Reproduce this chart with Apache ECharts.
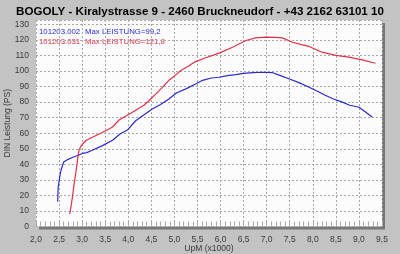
<!DOCTYPE html>
<html><head><meta charset="utf-8">
<script src="https://cdn.jsdelivr.net/npm/echarts@6/dist/echarts.min.js"></script>
<style>html,body{margin:0;padding:0;background:#c3c3c3}#c{width:400px;height:254px}</style>
</head><body><div id="c"></div>
<script>
const titleText = "BOGOLY - Kiralystrasse 9 - 2460 Bruckneudorf - +43 2162 63101 10";
const xName = "UpM (x1000)";
const yName = "DIN Leistung (PS)";
const runIds = ["101203.002", "101203.031"];
const runMax = ["Max LEISTUNG=99,2", "Max LEISTUNG=121,8"];
const blueRpm = [2.47,2.48,2.52,2.55,2.6,2.68,2.8,2.93,3.0,3.1,3.22,3.44,3.66,3.82,3.98,4.16,4.35,4.52,4.7,4.88,5.05,5.25,5.45,5.61,5.8,5.97,6.15,6.33,6.5,6.7,6.9,7.12,7.3,7.48,7.7,7.92,8.1,8.28,8.45,8.64,8.8,9.0,9.15,9.29];
const bluePs = [16,25,33,37,41.5,43,44.5,46,47,47.5,49,52,55.5,59.5,62,68,72,75.5,78.5,82,86,88.5,91.5,94,95.5,96,97,97.7,98.5,99,99.2,99,97,95,92.5,89.6,87,84.2,82,80,78,76.7,73.5,70.3];
const redRpm = [2.73,2.76,2.79,2.82,2.85,2.88,2.9,2.93,2.98,3.08,3.22,3.44,3.66,3.8,4.09,4.34,4.47,4.6,4.74,4.88,5.01,5.14,5.3,5.43,5.68,5.97,6.26,6.55,6.76,6.98,7.2,7.34,7.56,7.75,7.92,8.2,8.5,8.78,9.07,9.36];
const redPs = [8,13,19,26,32,38,43,49,52,55.3,57.4,60.5,64,68.5,73.5,78,81.5,85.3,89.5,94,97,100.3,103,105.7,108.5,111.5,115.3,119.6,121.3,121.8,121.6,121.3,118.5,117,115.8,112.1,110,108.9,107.2,105];
const colors = ["#2a2ad0", "#e0304a"];

const pair = (xs, ys) => xs.map((x, i) => [x, ys[i]]);
const chart = echarts.init(document.getElementById('c'), null, {renderer: 'canvas'});
const lblFont = {fontFamily: 'Liberation Sans', fontSize: 8.5, color: '#3a3a3a'};
chart.setOption({
  backgroundColor: '#c3c3c3',
  animation: false,
  title: {text: titleText, left: 'center', top: 1,
    textStyle: {fontFamily: 'Liberation Sans', fontWeight: 'bold', fontSize: 11.6, color: '#000'}},
  grid: {left: 36, right: 18, top: 20, bottom: 27.5, show: true, backgroundColor: '#fcfcfc',
    outerBoundsMode: 'none', containLabel: false,
    borderWidth: 0, shadowColor: '#777', shadowBlur: 0, shadowOffsetX: 3, shadowOffsetY: 3},
  xAxis: {type: 'value', min: 2, max: 9.5, interval: 0.5,
    name: xName, nameLocation: 'middle', nameGap: 17.5, nameMoveOverlap: false,
    nameTextStyle: Object.assign({}, lblFont),
    axisLine: {show: false},
    axisTick: {show: true, inside: true, length: 5, lineStyle: {color: '#aaa'}},
    minorTick: {show: true, splitNumber: 5, length: 5, lineStyle: {color: '#aaa'}},
    axisLabel: Object.assign({margin: 9, formatter: v => v.toFixed(1).replace('.', ',')}, lblFont),
    splitLine: {show: true, lineStyle: {color: '#a8a8a8', type: [2, 2], width: 1}}},
  yAxis: {type: 'value', min: 0, max: 132.8, interval: 10,
    name: yName, nameLocation: 'middle', nameGap: 24, nameRotate: 90, nameMoveOverlap: false,
    nameTextStyle: Object.assign({}, lblFont),
    axisLine: {show: false}, axisTick: {show: false},
    axisLabel: Object.assign({margin: 7, showMaxLabel: false}, lblFont),
    splitLine: {show: true, lineStyle: {color: '#a8a8a8', type: [2, 2], width: 1}}},
  series: [
    {type: 'line', data: pair(blueRpm, bluePs), showSymbol: false, lineStyle: {color: colors[0], width: 1.2}, itemStyle: {color: colors[0]}},
    {type: 'line', data: pair(redRpm, redPs), showSymbol: false, lineStyle: {color: colors[1], width: 1.2}, itemStyle: {color: colors[1]}}
  ],
  graphic: [0, 1].flatMap(i => [
    {type: 'text', left: 39, top: 28 + i * 10, style: {text: runIds[i], fill: colors[i], font: '7.8px "Liberation Sans"'}},
    {type: 'text', left: 85, top: 28 + i * 10, style: {text: runMax[i], fill: colors[i], font: '7.8px "Liberation Sans"'}}
  ])
});
</script></body></html>
